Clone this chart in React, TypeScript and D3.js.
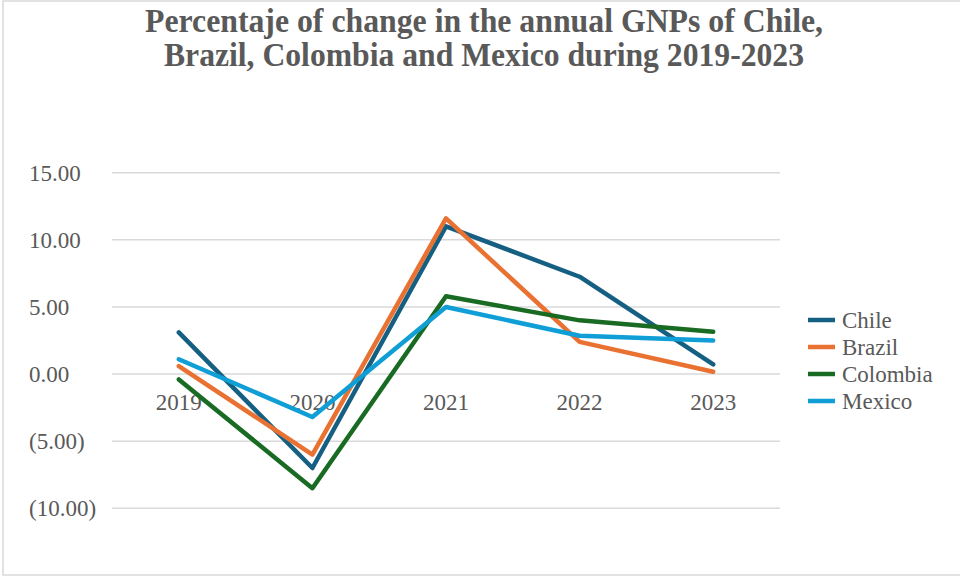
import React from "react";
import * as d3 from "d3";

const years = ["2019", "2020", "2021", "2022", "2023"];
const chile = [3.1, -7.0, 11.0, 7.25, 0.72];
const brazil = [0.6, -6.0, 11.6, 2.4, 0.17];
const colombia = [-0.4, -8.5, 5.8, 4.0, 3.15];
const mexico = [1.1, -3.2, 5.0, 2.85, 2.5];
const seriesNames = ["Chile", "Brazil", "Colombia", "Mexico"];
const seriesColors = ["#156082", "#E97132", "#196B24", "#0F9ED5"];
const yTicks = [-10, -5, 0, 5, 10, 15];
const titleLines = [
  "Percentaje of change in the annual GNPs of Chile,",
  "Brazil, Colombia and Mexico during 2019-2023",
];

const W = 960;
const H = 576;
const FONT = "'Liberation Serif', 'Times New Roman', serif";

function fmt(v: number) {
  const s = Math.abs(v).toFixed(2);
  return v < 0 ? `(${s})` : s;
}

export default function App() {
  const seriesValues = [chile, brazil, colombia, mexico];
  const x = d3.scaleBand<string>().domain(years).range([112, 780]);
  const y = d3.scaleLinear().domain([-10, 15]).range([508.3, 172.7]);
  const cx = (yr: string) => (x(yr) as number) + x.bandwidth() / 2;
  const line = d3
    .line<number>()
    .x((_, i) => cx(years[i]))
    .y((v) => y(v));

  return (
    <svg
      width={W}
      height={H}
      style={{ position: "fixed", left: 0, top: 0, background: "#fff" }}
    >
      <rect x={3} y={1} width={W} height={H - 2} fill="#fff" stroke="#d9d9d9" strokeWidth={1.5} />
      {titleLines.map((t, i) => (
        <text
          key={i}
          x={484}
          y={31.5 + i * 34}
          textAnchor="middle"
          fontFamily={FONT}
          fontWeight="bold"
          fontSize={33}
          fill="#595959"
          textLength={i === 0 ? 678 : 640}
          lengthAdjust="spacingAndGlyphs"
        >
          {t}
        </text>
      ))}
      {yTicks.map((t) => (
        <g key={t}>
          <line x1={112} x2={780} y1={y(t)} y2={y(t)} stroke="#d9d9d9" strokeWidth={1.5} />
          <text
            x={29}
            y={y(t)}
            dy="0.35em"
            fontFamily={FONT}
            fontSize={23}
            fill="#595959"
          >
            {fmt(t)}
          </text>
        </g>
      ))}
      {years.map((yr) => (
        <text
          key={yr}
          x={cx(yr)}
          y={409.5}
          textAnchor="middle"
          fontFamily={FONT}
          fontSize={23}
          fill="#595959"
        >
          {yr}
        </text>
      ))}
      {seriesValues.map((vals, i) => (
        <path
          key={seriesNames[i]}
          d={line(vals) as string}
          fill="none"
          stroke={seriesColors[i]}
          strokeWidth={4.5}
          strokeLinejoin="round"
          strokeLinecap="round"
        />
      ))}
      {seriesNames.map((name, i) => (
        <g key={name} transform={`translate(0, ${320 + i * 27})`}>
          <line x1={808} x2={835} y1={0} y2={0} stroke={seriesColors[i]} strokeWidth={4.5} />
          <text
            x={842}
            y={0}
            dy="0.35em"
            fontFamily={FONT}
            fontSize={23}
            fill="#595959"
          >
            {name}
          </text>
        </g>
      ))}
    </svg>
  );
}
